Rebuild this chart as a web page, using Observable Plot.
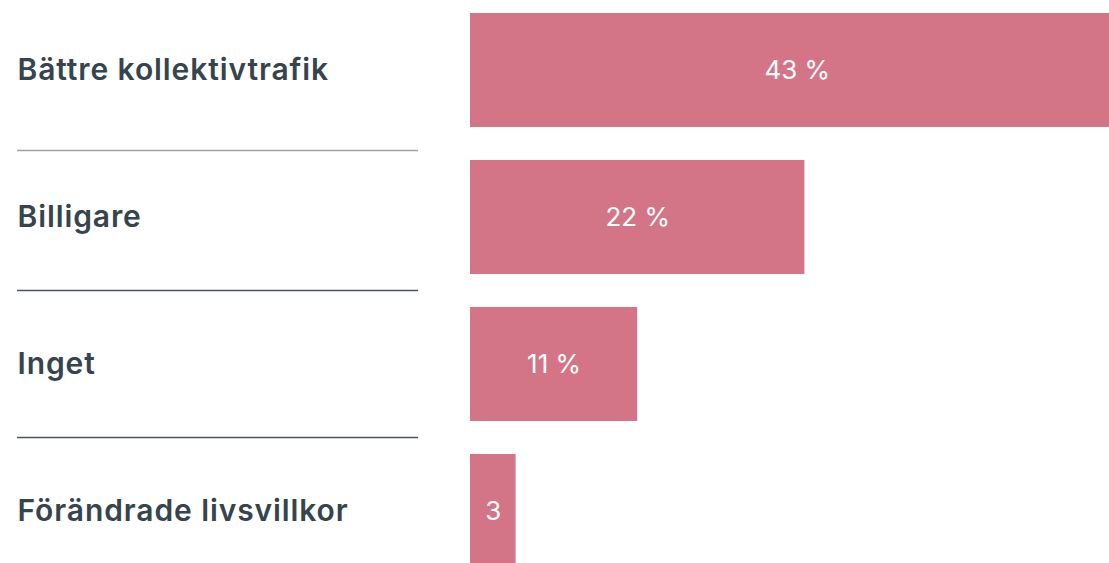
<!DOCTYPE html>
<html>
<head>
<meta charset="utf-8">
<script src="https://cdn.jsdelivr.net/npm/d3@7"></script>
<script src="https://cdn.jsdelivr.net/npm/@observablehq/plot@0.6"></script>
<style>
  html, body { margin: 0; padding: 0; background: #fff; overflow: hidden; }
  #chart svg { display: block; }
  #chart g[aria-label="y-axis tick label"] { letter-spacing: 0.9px; }
</style>
</head>
<body>
<div id="chart"></div>
<script>
const categories = ["Bättre kollektivtrafik", "Billigare", "Inget", "Förändrade livsvillkor"];
const values = [43, 22, 11, 3];
const valueLabels = ["43 %", "22 %", "11 %", "3"];

const data = categories.map((c, i) => ({category: c, value: values[i], label: valueLabels[i]}));

const W = 1109, H = 563;
const plot = Plot.plot({
  width: W,
  height: H,
  marginLeft: 470,
  marginRight: 0,
  marginTop: 0,
  marginBottom: 0,
  style: {fontFamily: "Inter, 'Noto Sans', sans-serif", background: "#fff"},
  x: {domain: [0, 42.04], axis: null},
  y: {type: "band", domain: categories, range: [0, 581], paddingInner: 0.2245, paddingOuter: 0.0884, axis: null},
  marks: [
    Plot.barX(data, {y: "category", x: "value", fill: "#d47587"}),
    Plot.text(data, {y: "category", x: d => d.value / 2, text: "label", fill: "#fff", fontSize: 26, fontWeight: 400}),
    Plot.axisY({tickSize: 0, tickPadding: 0, textAnchor: "start", dx: -453, fontSize: 30, fontWeight: 600, fill: "#36444d", label: null}),
    Plot.ruleY(categories.slice(1, 2), {y: d => d, dy: -67, stroke: "#9ea3a7", strokeWidth: 1.3, insetLeft: -453, insetRight: 691}),
    Plot.ruleY(categories.slice(2), {y: d => d, dy: -74, stroke: "#4b555d", strokeWidth: 1.3, insetLeft: -453, insetRight: 691})
  ]
});
document.getElementById("chart").appendChild(plot);
</script>
</body>
</html>
